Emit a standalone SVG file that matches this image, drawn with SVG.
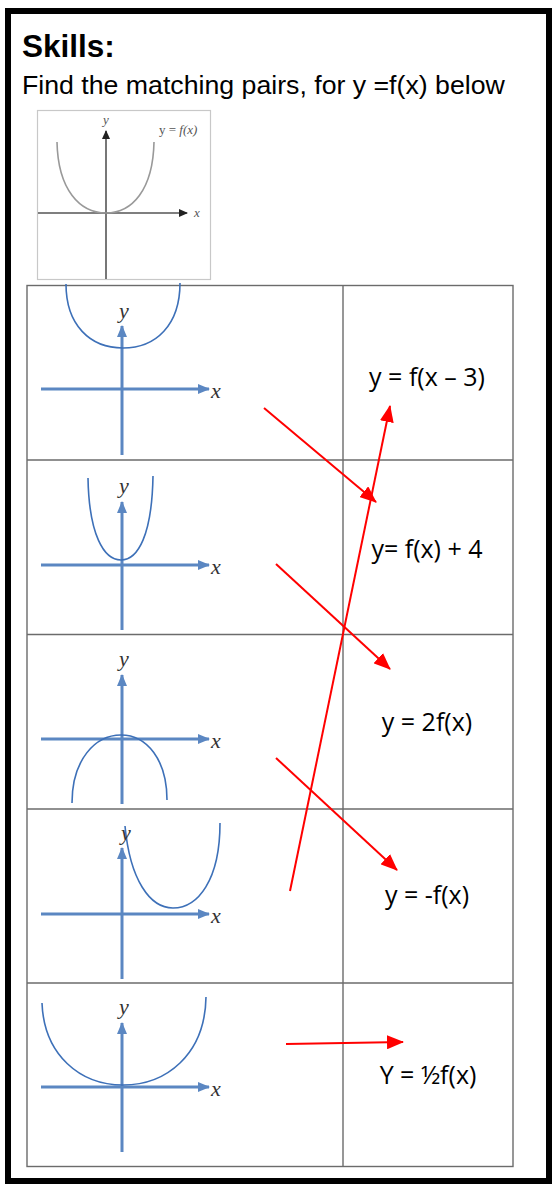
<svg xmlns="http://www.w3.org/2000/svg" width="552" height="1185" viewBox="0 0 552 1185">
<style>
.frame{fill:none;stroke:#000;stroke-width:6}
.title{font-family:"Liberation Sans",Arial,sans-serif;font-weight:bold;font-size:31.5px;fill:#000}
.sub{font-family:"Liberation Sans",Arial,sans-serif;font-size:26.7px;fill:#000}
.grid{fill:none;stroke:#6b6b6b;stroke-width:1.4}
.axis{fill:none;stroke:#5b87c2;stroke-width:3}
.curve{fill:none;stroke:#3d70b8;stroke-width:1.6}
.lab{font-family:"Liberation Serif","Times New Roman",serif;font-style:italic;font-size:22px;fill:#333}
.eq{font-family:"Open Sans","Noto Sans",sans-serif;font-size:25px;fill:#000;text-anchor:middle}
.gaxis{fill:none;stroke:#555;stroke-width:1.6}
.gcurve{fill:none;stroke:#999;stroke-width:1.6}
.glab{font-family:"Liberation Serif","Times New Roman",serif;font-size:13px;fill:#555}
.red{fill:none;stroke:#ff0000;stroke-width:2}
</style>
<defs>
<marker id="ah" markerUnits="userSpaceOnUse" markerWidth="12" markerHeight="10" refX="11" refY="5" orient="auto">
<path d="M0,0 L12,5 L0,10 z" fill="#5b87c2"/>
</marker>
<marker id="gh" markerUnits="userSpaceOnUse" markerWidth="9" markerHeight="8" refX="8" refY="4" orient="auto">
<path d="M0,0 L9,4 L0,8 z" fill="#222"/>
</marker>
<marker id="rh" markerUnits="userSpaceOnUse" markerWidth="17" markerHeight="14" refX="16" refY="7" orient="auto">
<path d="M0,0 L17,7 L0,14 z" fill="#ff0000"/>
</marker>
</defs>
<rect width="552" height="1185" fill="#fff"/>
<rect class="frame" x="8" y="11" width="541" height="1170"/>
<g id="header">
<text class="title" x="22" y="57">Skills:</text>
<text class="sub" x="22" y="94">Find the matching pairs, for y =f(x) below</text>
</g>
<g id="reference-graph">
<rect x="37.5" y="110.5" width="173" height="169" fill="#fff" stroke="#c8c8c8" stroke-width="1.2"/>
<line class="gaxis" x1="38" y1="213" x2="187" y2="213" marker-end="url(#gh)"/>
<line class="gaxis" x1="106" y1="279" x2="106" y2="131" marker-end="url(#gh)"/>
<path class="gcurve" d="M57,142 C58,190 80,213 106,213 C132,213 153,190 154,142"/>
<text class="glab" x="103" y="124" font-style="italic">y</text>
<text class="glab" x="194" y="217" font-style="italic">x</text>
<text class="glab" x="159" y="134">y = <tspan font-style="italic">f(x)</tspan></text>
</g>
<g id="table">
<rect class="grid" x="27" y="285.5" width="486" height="881"/>
<line class="grid" x1="343" y1="285.5" x2="343" y2="1166.5"/>
<line class="grid" x1="27" y1="460" x2="513" y2="460"/>
<line class="grid" x1="27" y1="634.5" x2="513" y2="634.5"/>
<line class="grid" x1="27" y1="809" x2="513" y2="809"/>
<line class="grid" x1="27" y1="983" x2="513" y2="983"/>
</g>
<g id="graph-1">
<line class="axis" x1="41" y1="389" x2="209" y2="389" marker-end="url(#ah)"/>
<line class="axis" x1="122" y1="455" x2="122" y2="326" marker-end="url(#ah)"/>
<path class="curve" d="M66,284 C66,325 90,348 123,348 C156,348 180,325 180,283"/>
<text class="lab" x="211" y="398">x</text>
<text class="lab" x="119" y="318">y</text>
</g>
<g id="graph-2">
<line class="axis" x1="41" y1="565" x2="209" y2="565" marker-end="url(#ah)"/>
<line class="axis" x1="122" y1="630" x2="122" y2="502" marker-end="url(#ah)"/>
<path class="curve" d="M88,478 C89,535 104,560 121,560 C138,560 152,535 153,476"/>
<text class="lab" x="211" y="574">x</text>
<text class="lab" x="119" y="493">y</text>
</g>
<g id="graph-3">
<line class="axis" x1="41" y1="739" x2="209" y2="739" marker-end="url(#ah)"/>
<line class="axis" x1="122" y1="804" x2="122" y2="675" marker-end="url(#ah)"/>
<path class="curve" d="M72,803 C72,760 95,735 121,735 C147,735 167,760 167,800"/>
<text class="lab" x="211" y="748">x</text>
<text class="lab" x="119" y="666">y</text>
</g>
<g id="graph-4">
<line class="axis" x1="41" y1="914" x2="209" y2="914" marker-end="url(#ah)"/>
<line class="axis" x1="122" y1="979" x2="122" y2="848" marker-end="url(#ah)"/>
<path class="curve" d="M125,826 C130,880 150,908 173,908 C198,908 220,880 220,823"/>
<text class="lab" x="211" y="923">x</text>
<text class="lab" x="121" y="840">y</text>
</g>
<g id="graph-5">
<line class="axis" x1="41" y1="1087" x2="209" y2="1087" marker-end="url(#ah)"/>
<line class="axis" x1="122" y1="1152" x2="122" y2="1023" marker-end="url(#ah)"/>
<path class="curve" d="M42,1003 C44,1055 80,1085 123,1085 C166,1085 205,1055 206,997"/>
<text class="lab" x="211" y="1096">x</text>
<text class="lab" x="119" y="1014">y</text>
</g>
<g id="label-1"><text class="eq" x="427" y="386">y = f(x – 3)</text></g>
<g id="label-2"><text class="eq" x="427" y="558">y= f(x) + 4</text></g>
<g id="label-3"><text class="eq" x="427" y="731">y = 2f(x)</text></g>
<g id="label-4"><text class="eq" x="427" y="904">y = -f(x)</text></g>
<g id="label-5"><text class="eq" x="428" y="1084">Y = ½f(x)</text></g>
<g id="connectors">
<line class="red" x1="264" y1="408" x2="376" y2="502" marker-end="url(#rh)"/>
<line class="red" x1="290" y1="891" x2="390" y2="406" marker-end="url(#rh)"/>
<line class="red" x1="276" y1="564" x2="390" y2="669" marker-end="url(#rh)"/>
<line class="red" x1="276" y1="758" x2="397" y2="870" marker-end="url(#rh)"/>
<line class="red" x1="286" y1="1044" x2="403" y2="1042" marker-end="url(#rh)"/>
</g>
</svg>
